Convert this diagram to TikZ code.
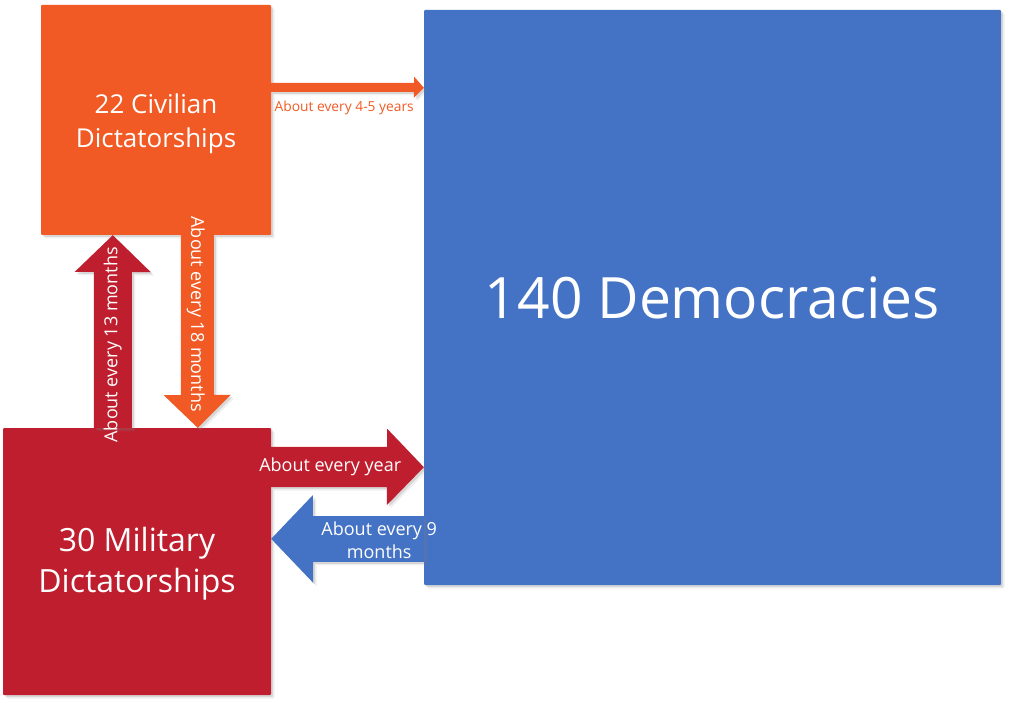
\documentclass[tikz,border=0pt]{standalone}
\usepackage{fontspec}
\setmainfont{Open Sans}
\usetikzlibrary{calc,shadows}

\definecolor{civorange}{RGB}{241,90,36}
\definecolor{milred}{RGB}{190,30,45}
\definecolor{demblue}{RGB}{68,114,196}

\tikzset{
  softshadow/.style={
    drop shadow={shadow xshift=3.5pt, shadow yshift=-3.5pt, opacity=0.12},
    drop shadow={shadow xshift=2pt, shadow yshift=-2pt, opacity=0.22}},
  regime/.style={rectangle, rounded corners=1pt, inner sep=0pt,
    text=white, align=center, softshadow},
  rate/.style={text=white, inner sep=0pt, align=center,
    font=\fontsize{18}{23}\selectfont},
}

\begin{document}
\begin{tikzpicture}[x=1pt, y=-1pt]
  \useasboundingbox (0,0) rectangle (1011,708);

  % regimes
  \node[regime, fill=civorange, minimum width=230pt, minimum height=230pt,
    font=\fontsize{26}{34}\selectfont] (civ) at (156,120)
    {\raisebox{-4pt}[\height][\depth]{\begin{tabular}{@{}c@{}}22 Civilian\\Dictatorships\end{tabular}}};
  \node[regime, fill=demblue, minimum width=577pt, minimum height=575pt,
    font=\fontsize{57}{68}\selectfont] (dem) at (712.5,297.5) {140 Democracies};
  \node[regime, fill=milred, minimum width=268pt, minimum height=267pt,
    font=\fontsize{32}{41}\selectfont] (mil) at (137,561.5)
    {\raisebox{-2pt}[\height][\depth]{\begin{tabular}{@{}c@{}}30 Military\\Dictatorships\end{tabular}}};

  % civilian -> democracy
  \fill[civorange, softshadow] ($(civ.north east)+(0,78)$) -- ++(143,0) -- ++(0,-6)
    -- ($(dem.north west)+(0,78)$) -- ++(-10,10) -- ++(0,-6) -- ++(-143,0) -- cycle;
  % military -> civilian
  \fill[milred, softshadow] ($(mil.north west)+(91,0)$) -- ++(0,-156) -- ++(-19,0)
    -- ($(civ.south west)+(72,0)$) -- ++(38,37) -- ++(-19,0) -- ++(0,156) -- cycle;
  % civilian -> military
  \fill[civorange, softshadow] ($(civ.south west)+(140,0)$) -- ++(0,160) -- ++(-17,0)
    -- ($(mil.north west)+(195,0)$) -- ++(33,-33) -- ++(-17,0) -- ++(0,-160) -- cycle;
  % military -> democracy
  \fill[milred, softshadow] ($(mil.north east)+(0,19)$) -- ++(116,0) -- ++(0,-18)
    -- ($(dem.south west)+(0,-118)$) -- ++(-37,38) -- ++(0,-18) -- ++(-116,0) -- cycle;
  % democracy -> military
  \fill[demblue, softshadow] ($(dem.south west)+(0,-69)$) -- ++(-111,0) -- ++(0,-21)
    -- ($(mil.north east)+(0,111)$) -- ++(42,44) -- ++(0,-21) -- ++(111,0) -- cycle;

  % rates
  \node[rate, text=civorange, font=\fontsize{13.8}{16}\selectfont] (r45)
    at ($(civ.north east)+(73,103)$) {About every 4-5 years};
  \node[rate, rotate=90] (r13) at ($(mil.north west)+(110,-83)$) {About every 13 months};
  \node[rate, rotate=-90] (r18) at ($(civ.south west)+(155,79)$) {About every 18 months};
  \node[rate] (ryear) at ($(mil.north east)+(59,39)$) {About every year};
  \node[rate] (r9) at ($(mil.north east)+(108,112)$) {About every 9\\months};
\end{tikzpicture}
\end{document}
